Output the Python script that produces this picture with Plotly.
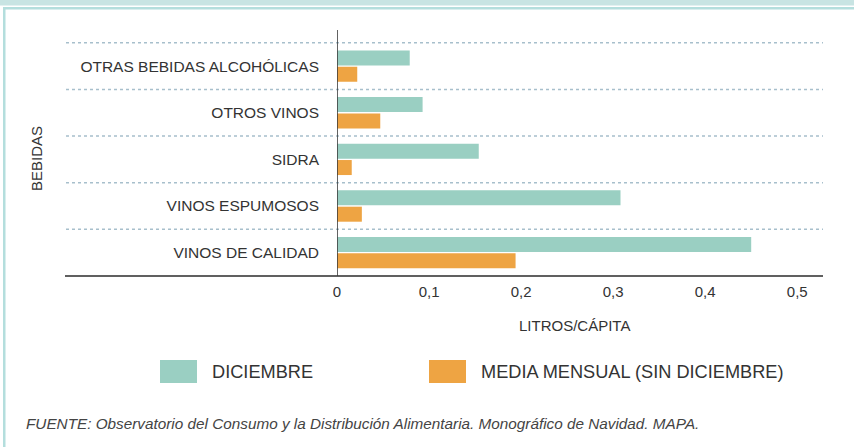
import plotly.graph_objects as go

categories = ["OTRAS BEBIDAS ALCOHÓLICAS", "OTROS VINOS", "SIDRA", "VINOS ESPUMOSOS", "VINOS DE CALIDAD"]
diciembre = [0.079, 0.093, 0.154, 0.308, 0.450]
media_mensual = [0.022, 0.047, 0.016, 0.027, 0.194]
series_names = ["DICIEMBRE", "MEDIA MENSUAL (SIN DICIEMBRE)"]
x_ticks = [0, 0.1, 0.2, 0.3, 0.4, 0.5]
x_ticktext = ["0", "0,1", "0,2", "0,3", "0,4", "0,5"]
x_title = "LITROS/CÁPITA"
y_title = "BEBIDAS"
source = "FUENTE: Observatorio del Consumo y la Distribución Alimentaria. Monográfico de Navidad. MAPA."

TEAL = "#9acfc2"
ORANGE = "#eea443"
TXT = "#333333"
FONT = "Liberation Sans, Arial, Helvetica, sans-serif"

W, H = 854, 447
L, R, T, B = 337, 31, 42, 171
PW, PH = W - L - R, H - T - B


def xp(px):
    return (px - L) / PW


def yp(py):
    return (H - B - py) / PH


fig = go.Figure()
fig.add_trace(go.Bar(y=categories, x=diciembre, name=series_names[0], orientation="h",
                     marker=dict(color=TEAL, line=dict(width=0))))
fig.add_trace(go.Bar(y=categories, x=media_mensual, name=series_names[1], orientation="h",
                     marker=dict(color=ORANGE, line=dict(width=0))))

shapes = []
# frame
shapes.append(dict(type="rect", xref="paper", yref="paper", x0=xp(0), x1=xp(W), y0=yp(0), y1=yp(5.5),
                   fillcolor="#c8e4e3", line=dict(width=0), layer="above"))
shapes.append(dict(type="rect", xref="paper", yref="paper", x0=xp(3), x1=xp(W), y0=yp(7), y1=yp(9.5),
                   fillcolor="#b4dedd", line=dict(width=0), layer="above"))
shapes.append(dict(type="rect", xref="paper", yref="paper", x0=xp(3), x1=xp(5.5), y0=yp(7), y1=yp(H),
                   fillcolor="#b4dedd", line=dict(width=0), layer="above"))
# category boundary gridlines
for b in [-0.5, 0.5, 1.5, 2.5, 3.5]:
    shapes.append(dict(type="line", xref="paper", yref="y", x0=xp(66), x1=xp(823), y0=b, y1=b,
                       line=dict(color="#a7bfcc", width=1.5, dash="dot"), layer="below"))
# bottom axis line
shapes.append(dict(type="line", xref="paper", yref="paper", x0=xp(65), x1=xp(823), y0=0, y1=0,
                   line=dict(color="#2b2b2b", width=1.6)))
# vertical zero line
shapes.append(dict(type="line", xref="x", yref="paper", x0=0, x1=0, y0=0, y1=yp(30),
                   line=dict(color="#3a3a3a", width=1.6)))
# legend swatches
shapes.append(dict(type="rect", xref="paper", yref="paper", x0=xp(160), x1=xp(197), y0=yp(360), y1=yp(383),
                   fillcolor=TEAL, line=dict(width=0)))
shapes.append(dict(type="rect", xref="paper", yref="paper", x0=xp(429), x1=xp(466), y0=yp(360), y1=yp(383),
                   fillcolor=ORANGE, line=dict(width=0)))

annotations = [
    dict(text=y_title, xref="paper", yref="paper", x=xp(36), y=yp(159), textangle=-90,
         showarrow=False, xanchor="center", yanchor="middle", font=dict(size=15, color=TXT, family=FONT)),
    dict(text=x_title, xref="paper", yref="paper", x=xp(574), y=yp(325),
         showarrow=False, xanchor="center", yanchor="middle", font=dict(size=15, color=TXT, family=FONT)),
    dict(text=series_names[0], xref="paper", yref="paper", x=xp(210), y=yp(372),
         showarrow=False, xanchor="left", yanchor="middle", font=dict(size=18.2, color=TXT, family=FONT)),
    dict(text=series_names[1], xref="paper", yref="paper", x=xp(479), y=yp(372),
         showarrow=False, xanchor="left", yanchor="middle", font=dict(size=18.2, color=TXT, family=FONT)),
    dict(text="<i>" + source + "</i>", xref="paper", yref="paper", x=xp(24), y=yp(423),
         showarrow=False, xanchor="left", yanchor="middle", font=dict(size=15.3, color="#444444", family=FONT)),
]

fig.update_layout(
    width=W, height=H,
    margin=dict(l=L, r=R, t=T, b=B, pad=0),
    paper_bgcolor="white", plot_bgcolor="white",
    barmode="group", bargap=0.3, bargroupgap=0.08,
    showlegend=False,
    font=dict(family=FONT, color=TXT, size=15),
    shapes=shapes,
    annotations=annotations,
    xaxis=dict(range=[0, 0.528], tickvals=x_ticks, ticktext=x_ticktext, showgrid=False, zeroline=False,
               showline=False, ticks="", ticklabelstandoff=5, tickfont=dict(size=15, color=TXT)),
    yaxis=dict(categoryorder="array", categoryarray=categories, autorange="reversed",
               showgrid=False, zeroline=False, showline=False, ticks="", ticklabelstandoff=17,
               tickfont=dict(size=15.5, color=TXT)),
)

fig.write_html("out.html", config={"displayModeBar": False},
               post_script="document.body.style.margin='0';document.body.style.overflow='hidden';")
